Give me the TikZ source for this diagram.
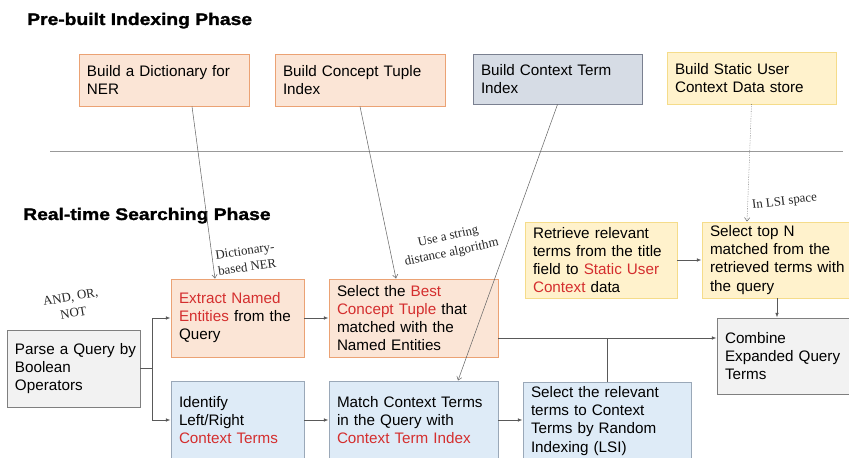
\documentclass[tikz,border=0pt]{standalone}
\usepackage{fontspec}
\setmainfont{Liberation Sans}
\newfontfamily\notefont{Liberation Serif}
\newfontfamily\titlefont[FakeStretch=1.15,FakeBold=1.4]{Liberation Sans}
\usetikzlibrary{arrows.meta}

\definecolor{orfill}{HTML}{FBE5D6}
\definecolor{ordraw}{HTML}{EBA274}
\definecolor{gbfill}{HTML}{D6DCE5}
\definecolor{gbdraw}{HTML}{7A8090}
\definecolor{ylfill}{HTML}{FFF2CC}
\definecolor{yldraw}{HTML}{F5DC8A}
\definecolor{blfill}{HTML}{DEEBF7}
\definecolor{bldraw}{HTML}{9AA8B8}
\definecolor{grfill}{HTML}{F2F2F2}
\definecolor{grdraw}{HTML}{7F7F7F}
\definecolor{hl}{HTML}{D42E2E}
\definecolor{wire}{HTML}{595959}

\newcommand\rowtext[1]{\mbox{#1}}

\begin{document}
\begin{tikzpicture}[x=0.03cm,y=-0.03cm,
  box/.style={draw, line width=0.8pt, align=left, inner xsep=0.24cm,
    inner ysep=2pt, font=\fontsize{13}{15.4}\selectfont},
  orangebox/.style={box, fill=orfill, draw=ordraw},
  slatebox/.style={box, fill=gbfill, draw=gbdraw},
  yellowbox/.style={box, fill=ylfill, draw=yldraw},
  bluebox/.style={box, fill=blfill, draw=bldraw},
  greybox/.style={box, fill=grfill, draw=grdraw},
  sz/.style n args={3}{minimum width=#1cm, minimum height=#2cm, text width=#3cm},
  title/.style={font=\titlefont\bfseries\fontsize{14.3}{16}\selectfont, inner sep=0pt},
  note/.style={font=\notefont\fontsize{11}{14}\selectfont, align=center, text=black!85, inner sep=0pt},
  flow/.style={draw=wire, line width=0.6pt, -{Latex[length=4pt,width=3pt]}},
  plain/.style={draw=wire, line width=0.6pt},
  feed/.style={draw=black!60, line width=0.45pt, -{Straight Barb[length=3pt,width=4.5pt]}},
  sep/.style={draw=black!40, line width=0.6pt}
]
\useasboundingbox (0,0) rectangle (849,458);

% phase titles and separator
\node[title, anchor=base west] (ttop) at (27,25) {Pre-built Indexing Phase};
\node[title, anchor=base west] (tbot) at (23,220) {Real-time Searching Phase};
\coordinate (sepL) at (50,151);
\coordinate (sepR) at (843,151);
\draw[sep] (sepL) -- (sepR);

% pre-built indexing boxes
\node[orangebox, sz={5.1}{1.56}{4.62}] (dict) at (164,80)
  {\rowtext{Build a Dictionary for}\\NER};
\node[orangebox, sz={5.1}{1.56}{4.62}] (ctidx) at (360,80)
  {\rowtext{Build Concept Tuple}\\Index};
\node[slatebox, sz={5.07}{1.5}{4.59}] (cxidx) at (557.5,79)
  {\rowtext{Build Context Term}\\Index};
\node[yellowbox, sz={5.07}{1.56}{4.59}] (store) at (751.5,78)
  {\rowtext{Build Static User}\\\rowtext{Context Data store}};

% real-time searching boxes
\node[greybox, sz={3.99}{2.31}{3.51}] (parse) at (73.5,368.5)
  {\rowtext{Parse a Query by}\\Boolean\\Operators};
\node[orangebox, sz={3.99}{2.34}{3.51}] (extract) at (237.5,318)
  {\rowtext{\textcolor{hl}{Extract Named}}\\\rowtext{\textcolor{hl}{Entities} from the}\\Query};
\node[orangebox, sz={5.07}{2.34}{4.59}] (best) at (413.5,318)
  {\rowtext{Select the \textcolor{hl}{Best}}\\\rowtext{\textcolor{hl}{Concept Tuple} that}\\\rowtext{matched with the}\\\rowtext{Named Entities}};
\node[bluebox, sz={3.99}{2.34}{3.51}] (identify) at (237.5,420)
  {Identify\\Left/Right\\\rowtext{\textcolor{hl}{Context Terms}}};
\node[bluebox, sz={5.07}{2.34}{4.59}] (match) at (413.5,420)
  {\rowtext{Match Context Terms}\\\rowtext{in the Query with}\\\rowtext{\textcolor{hl}{Context Term Index}}};
\node[bluebox, sz={5.04}{2.34}{4.56}] (relevant) at (607,421)
  {\rowtext{Select the relevant}\\\rowtext{terms to Context}\\\rowtext{Terms by Random}\\\rowtext{Indexing (LSI)}};
\node[yellowbox, sz={4.56}{2.28}{4.08}] (retrieve) at (601,260)
  {\rowtext{Retrieve relevant}\\\rowtext{terms from the title}\\\rowtext{field to \textcolor{hl}{Static User}}\\\rowtext{\textcolor{hl}{Context} data}};
\node[yellowbox, sz={4.5}{2.28}{4.02}] (topn) at (777,260)
  {\rowtext{Select top N}\\\rowtext{matched from the}\\\rowtext{retrieved terms with}\\\rowtext{the query}};
\node[greybox, sz={4.05}{2.28}{3.57}] (combine) at (784.5,356)
  {Combine\\\rowtext{Expanded Query}\\Terms};

% feeds from the indexes into the searching steps
\draw[feed] ([xshift=0.84cm]dict.south) -- ([xshift=-0.675cm]extract.north);
\draw[feed] (ctidx.south) -- ([xshift=-0.525cm]best.north);
\draw[feed] (cxidx.south) -- ([xshift=1.335cm]match.north);
\draw[feed, densely dotted] (store.south) -- ([xshift=-0.9cm]topn.north);

% notes on the feeds
\node[note, rotate=10] (nbool) at (72,305) {AND, OR,\\NOT};
\node[note, rotate=8] (nner) at (246,259) {Dictionary-\\based NER};
\node[note, rotate=12] (nstr) at (450,245) {Use a string\\distance algorithm};
\node[note, rotate=7, anchor=west] (nlsi) at (752,206) {In LSI space};

% query flow
\draw[plain] (parse.east) -- ++(12,0) coordinate (fork);
\draw[flow] (fork) |- (extract.west);
\draw[flow] (fork) |- (identify.west);
\draw[flow] (extract.east) -- (best.west);
\draw[flow] (identify.east) -- (match.west);
\draw[flow] (match.east) -- (match.east -| relevant.west);
\draw[flow] ([yshift=-0.6cm]best.east) coordinate (bout) -- (bout -| combine.west);
\draw[plain] (relevant.north) -- (relevant.north |- bout);
\draw[flow] (retrieve.east) -- (topn.west);
\draw[flow] (topn.south) -- (topn.south |- combine.north);
\end{tikzpicture}
\end{document}
